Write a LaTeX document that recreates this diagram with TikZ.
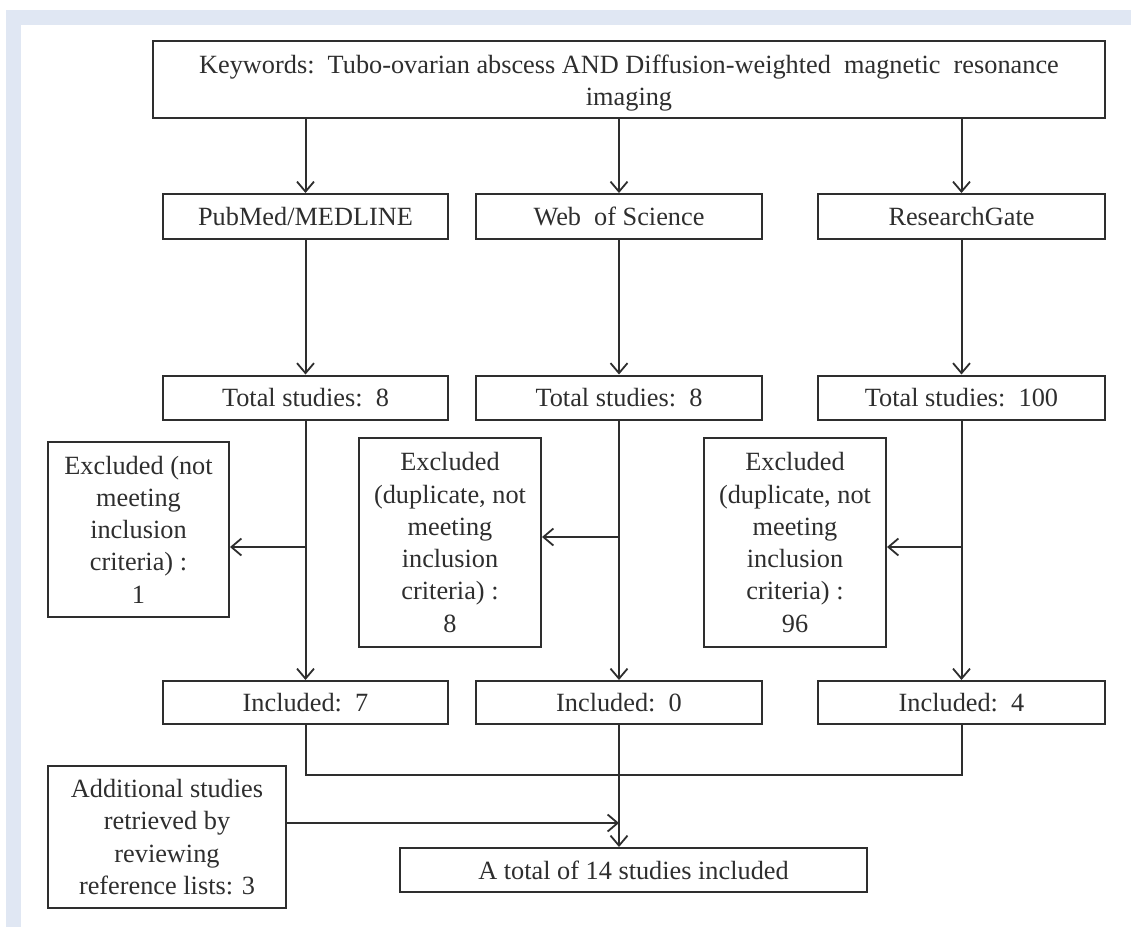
\documentclass[tikz,border=0pt]{standalone}
\usepackage{fontspec}
\setmainfont{Liberation Serif}
\usetikzlibrary{arrows.meta}
\definecolor{bandblue}{HTML}{E0E7F3}
\definecolor{ink}{HTML}{2E2E2E}
\begin{document}
\begin{tikzpicture}[x=1pt,y=-1pt,
  box/.style={draw=ink,line width=2pt,fill=white,inner sep=0pt,align=center,
    text=ink,font=\fontsize{26.3}{32.3}\selectfont},
  conn/.style={draw=ink,line width=2pt},
  arr/.style={conn,-{Straight Barb[length=10pt,width=17pt,line width=1.8pt]}}]
\useasboundingbox (0,0) rectangle (1131,927);
\fill[white] (0,0) rectangle (1131,927);
\fill[bandblue] (6,10) rectangle (1131,927);
\fill[white] (21,25) rectangle (1131,927);

\node[box,minimum width=952pt,minimum height=77pt] (top) at (629,79.5)
  {\rule{0pt}{26pt}Keywords:\ \ Tubo-ovarian abscess AND Diffusion-weighted\ \ magnetic\ \ resonance\\imaging};

\node[box,minimum width=285pt,minimum height=45pt] (pub) at (305.5,216.5) {PubMed/MEDLINE};
\node[box,minimum width=286pt,minimum height=45pt] (wos) at (619,216.5) {Web\ \ of Science};
\node[box,minimum width=287pt,minimum height=45pt] (rg) at (961.5,216.5) {ResearchGate};

\node[box,minimum width=285pt,minimum height=44pt] (tot1) at (305.5,397.5) {Total studies:\ \ 8};
\node[box,minimum width=286pt,minimum height=44pt] (tot2) at (619,397.5) {Total studies:\ \ 8};
\node[box,minimum width=287pt,minimum height=44pt] (tot3) at (961.5,397.5) {Total studies:\ \ 100};

\node[box,minimum width=181pt,minimum height=175pt] (ex1) at (138.5,529.5)
  {Excluded (not\\meeting\\inclusion\\criteria) :\\1};
\node[box,minimum width=182pt,minimum height=209pt] (ex2) at (450,542.5)
  {Excluded\\(duplicate, not\\meeting\\inclusion\\criteria) :\\8};
\node[box,minimum width=182pt,minimum height=209pt] (ex3) at (795,542.5)
  {Excluded\\(duplicate, not\\meeting\\inclusion\\criteria) :\\96};

\node[box,minimum width=285pt,minimum height=43pt] (inc1) at (305.5,702.5) {Included:\ \ 7};
\node[box,minimum width=286pt,minimum height=43pt] (inc2) at (619,702.5) {Included:\ \ 0};
\node[box,minimum width=287pt,minimum height=43pt] (inc3) at (961.5,702.5) {Included:\ \ 4};

\node[box,minimum width=238pt,minimum height=142pt] (add) at (167,837)
  {Additional studies\\retrieved by\\reviewing\\reference lists: 3};
\node[box,minimum width=467pt,minimum height=44pt] (total) at (633.5,870) {A total of 14 studies included};

% top to databases
\draw[arr] (top.south -| pub.south) -- (pub.north);
\draw[arr] (top.south -| wos.south) -- (wos.north);
\draw[arr] (top.south -| rg.south) -- (rg.north);
% databases to totals
\draw[arr] (pub.south) -- (tot1.north);
\draw[arr] (wos.south) -- (tot2.north);
\draw[arr] (rg.south) -- (tot3.north);
% totals to included
\draw[arr] (tot1.south) -- (inc1.north);
\draw[arr] (tot2.south) -- (inc2.north);
\draw[arr] (tot3.south) -- (inc3.north);
% exclusions
\coordinate (b1) at (305.5,547);
\coordinate (b2) at (619,537);
\coordinate (b3) at (961.5,547);
\draw[arr] (b1) -- (b1 -| ex1.east);
\draw[arr] (b2) -- (b2 -| ex2.east);
\draw[arr] (b3) -- (b3 -| ex3.east);
% merge
\coordinate (m1) at (305.5,775);
\coordinate (m3) at (961.5,775);
\draw[conn] (inc1.south) -- (m1) -- (m3) -- (inc3.south);
\draw[arr] (inc2.south) -- (inc2.south |- total.north);
\coordinate (a2) at (619,823);
\draw[arr] (add.east |- a2) -- (a2);
\end{tikzpicture}
\end{document}
